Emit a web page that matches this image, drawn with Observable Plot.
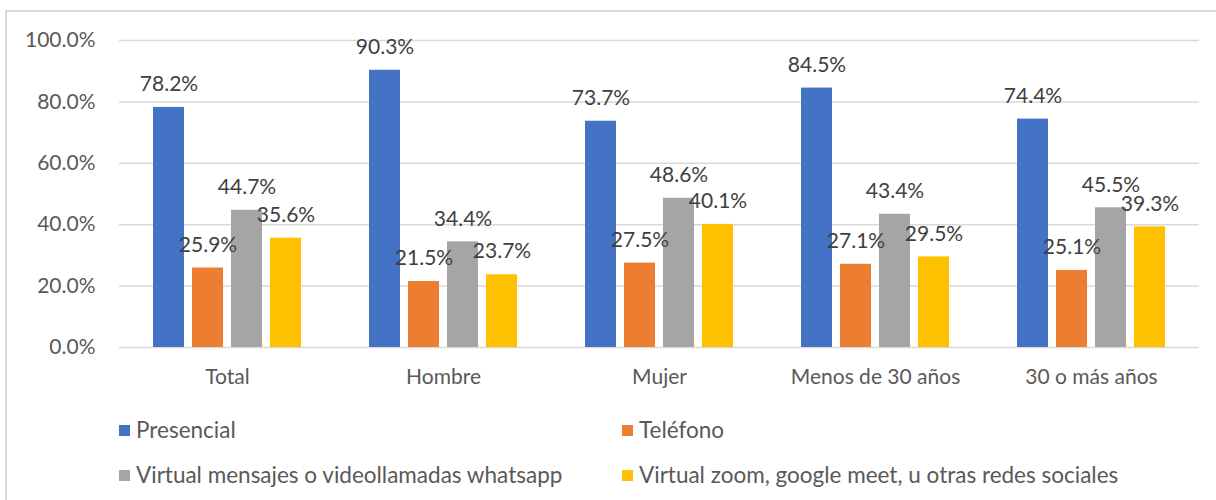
<!DOCTYPE html>
<html><head><meta charset="utf-8">
<script src="https://cdn.jsdelivr.net/npm/d3@7"></script>
<script src="https://cdn.jsdelivr.net/npm/@observablehq/plot@0.6"></script>
<style>
html,body{margin:0;padding:0;background:#fff;overflow:hidden;width:1216px;height:500px;}
#frame{position:absolute;left:5px;top:10px;width:1260px;height:540px;border:2px solid #d9d9d9;box-sizing:border-box;}
#chart{position:absolute;left:0;top:0;}
.legend{position:absolute;font-family:Lato;font-size:22.5px;color:#595959;display:flex;align-items:center;white-space:nowrap;height:26px;line-height:26px}
.legend .sw{display:inline-block;width:11px;height:11px;margin-right:6px}
</style></head>
<body>
<div id="frame"></div>
<div id="chart"></div>
<div id="legend"></div>
<script>
const categories = ["Total", "Hombre", "Mujer", "Menos de 30 años", "30 o más años"];
const series = ["Presencial", "Teléfono", "Virtual mensajes o videollamadas whatsapp", "Virtual zoom, google meet, u otras redes sociales"];
const colors = ["#4472C4", "#ED7D31", "#A5A5A5", "#FFC000"];
const presencial = [78.2, 90.3, 73.7, 84.5, 74.4];
const telefono = [25.9, 21.5, 27.5, 27.1, 25.1];
const whatsapp = [44.7, 34.4, 48.6, 43.4, 45.5];
const zoomRedes = [35.6, 23.7, 40.1, 29.5, 39.3];
const yTicks = [0, 20, 40, 60, 80, 100];

const seriesValues = [presencial, telefono, whatsapp, zoomRedes];
const data = [];
categories.forEach((c, ci) => {
  series.forEach((s, si) => {
    data.push({category: c, series: s, value: seriesValues[si][ci]});
  });
});

const chart = Plot.plot({
  width: 1216, height: 400,
  marginLeft: 117, marginRight: 16, marginTop: 40, marginBottom: 53,
  style: {fontFamily: "Lato", fontSize: "21px", color: "#595959", background: "transparent"},
  fx: {domain: categories, padding: 0, axis: "bottom", label: null, tickSize: 0, tickPadding: 22, fontSize: 22},
  x: {domain: series, axis: null, paddingInner: 0.205, paddingOuter: 0.851},
  y: {domain: [0, 100], ticks: yTicks, tickFormat: d => d.toFixed(1) + "%", tickSize: 0, tickPadding: 24, label: null},
  color: {domain: series, range: colors},
  marks: [
    Plot.ruleY(yTicks, {stroke: "#d9d9d9", strokeWidth: 1.5}),
    Plot.barY(data, {fx: "category", x: "series", y: "value", fill: "series"}),
    Plot.text(data, {fx: "category", x: "series", y: "value", text: d => d.value.toFixed(1) + "%", dy: -23, fontSize: 21, fill: "#404040"})
  ]
});
document.getElementById("chart").appendChild(chart);

const legendPos = [[119, 417], [622, 417], [119, 462], [622, 462]];
const leg = document.getElementById("legend");
series.forEach((s, i) => {
  const d = document.createElement("div");
  d.className = "legend";
  d.style.left = legendPos[i][0] + "px";
  d.style.top = legendPos[i][1] + "px";
  const sw = document.createElement("span");
  sw.className = "sw";
  sw.style.background = colors[i];
  d.appendChild(sw);
  d.appendChild(document.createTextNode(s));
  leg.appendChild(d);
});
</script>
</body></html>
